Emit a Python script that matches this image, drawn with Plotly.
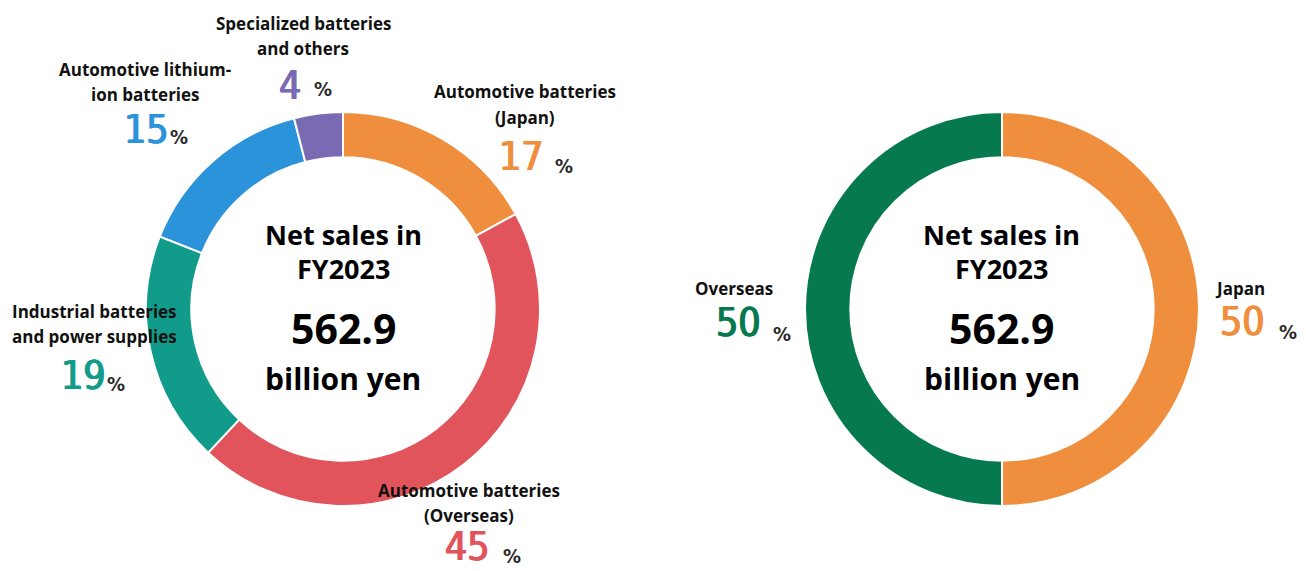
import plotly.graph_objects as go

W, H = 1306, 571

# ---------------- data ----------------
seg_labels = ["Automotive batteries (Japan)", "Automotive batteries (Overseas)",
              "Industrial batteries and power supplies", "Automotive lithium-ion batteries",
              "Specialized batteries and others"]
seg_values = [17, 45, 19, 15, 4]
seg_colors = ["#EF8F3E", "#E1545B", "#119B8A", "#2B93D9", "#7A6AB4"]
seg_label_lines = [["Automotive batteries", "(Japan)"],
                   ["Automotive batteries", "(Overseas)"],
                   ["Industrial batteries", "and power supplies"],
                   ["Automotive lithium-", "ion batteries"],
                   ["Specialized batteries", "and others"]]

region_labels = ["Japan", "Overseas"]
region_values = [50, 50]
region_colors = ["#EF8F3E", "#067A4E"]

center_lines = ["Net sales in", "FY2023", "562.9", "billion yen"]

# ---------------- layout helpers (pixel positions) ----------------
def px(x):
    return x / W

def py(y):
    return 1 - y / H

def domain(cx, cy, r):
    return dict(x=[px(cx - r), px(cx + r)], y=[py(cy + r), py(cy - r)])

LEFT_C = (343, 309)
RIGHT_C = (1002, 309)
R = 197

# label placement: (x, y of each line), number center, percent-sign center
seg_pos = [
    (525, [91, 117], (521, 157), (564, 166)),
    (469, [490, 515], (467, 546), (512, 556)),
    (94, [312, 336], (83, 376), (116, 384)),
    (145, [69, 94], (146, 130), (179, 137)),
    (303, [24, 49], (290, 85), (323, 89)),
]
region_pos = [
    (1240, [288], (1242, 321), (1288, 332)),
    (734, [288], (738, 322), (782, 334)),
]
center_y = [234, 268, 328, 378]
center_size = [27, 27, 41, 30]

LABEL_FONT = "Open Sans, Noto Sans, DejaVu Sans, sans-serif"
NUM_FONT = "Liberation Sans Narrow, DejaVu Sans Condensed, Roboto, sans-serif"

fig = go.Figure()
fig.add_trace(go.Pie(
    labels=seg_labels, values=seg_values, sort=False, direction="clockwise", rotation=0,
    hole=0.77, textinfo="none", hoverinfo="label+percent",
    marker=dict(colors=seg_colors, line=dict(color="white", width=2)),
    domain=domain(*LEFT_C, R), showlegend=False))
fig.add_trace(go.Pie(
    labels=region_labels, values=region_values, sort=False, direction="clockwise", rotation=0,
    hole=0.77, textinfo="none", hoverinfo="label+percent",
    marker=dict(colors=region_colors, line=dict(color="white", width=2)),
    domain=domain(*RIGHT_C, R), showlegend=False))

ann = []

def add_labels(lines, values, colors, positions):
    for ln, v, c, (lx, lys, (nx, ny), (sx, sy)) in zip(lines, values, colors, positions):
        for t, ly in zip(ln, lys):
            ann.append(dict(x=px(lx), y=py(ly), text=t, showarrow=False,
                            xanchor="center", yanchor="middle",
                            font=dict(family=LABEL_FONT, size=17, color="#111111", weight="bold")))
        ann.append(dict(x=px(nx), y=py(ny), text=str(v), showarrow=False,
                        xanchor="center", yanchor="middle",
                        font=dict(family=NUM_FONT, size=39, color=c,
                                  shadow=f"0.7px 0 0 {c}, -0.7px 0 0 {c}")))
        ann.append(dict(x=px(sx), y=py(sy), text="%", showarrow=False,
                        xanchor="center", yanchor="middle",
                        font=dict(family=NUM_FONT, size=20, color="#2a2a2a", weight="bold")))

add_labels(seg_label_lines, seg_values, seg_colors, seg_pos)
add_labels([[l] for l in region_labels], region_values, region_colors, region_pos)

for cx in (LEFT_C[0], RIGHT_C[0]):
    for t, cy, s in zip(center_lines, center_y, center_size):
        ann.append(dict(x=px(cx), y=py(cy), text=t, showarrow=False,
                        xanchor="center", yanchor="middle",
                        font=dict(family=LABEL_FONT, size=s, color="#000000", weight="bold")))

fig.update_layout(
    width=W, height=H, margin=dict(l=0, r=0, t=0, b=0),
    paper_bgcolor="white", plot_bgcolor="white",
    annotations=ann,
)

fig.write_html("out.html")
